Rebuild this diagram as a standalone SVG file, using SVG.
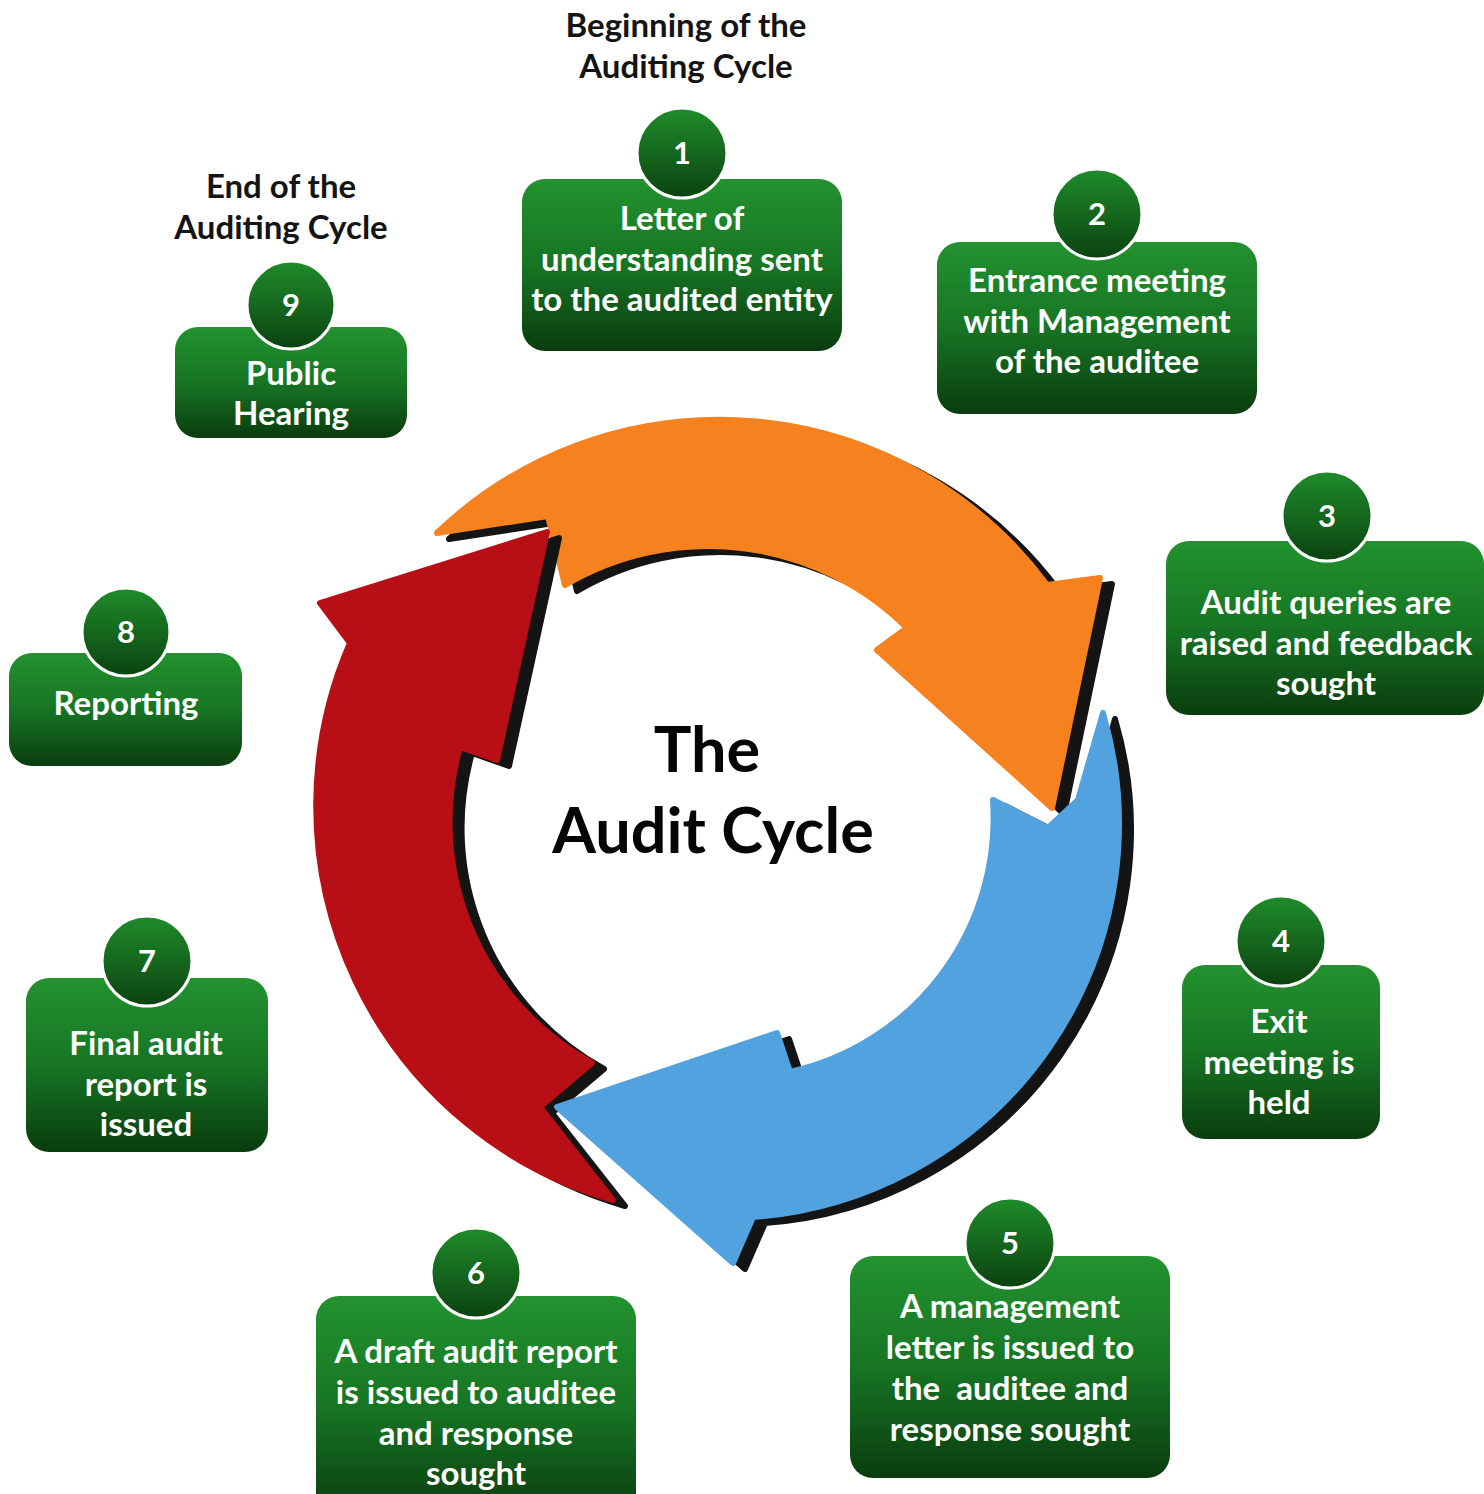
<svg xmlns="http://www.w3.org/2000/svg" width="1484" height="1494" viewBox="0 0 1484 1494">
  <defs>
    <linearGradient id="boxFill" x1="0" y1="0" x2="0" y2="1">
      <stop offset="0" stop-color="#23922f"/>
      <stop offset="0.5" stop-color="#177524"/>
      <stop offset="1" stop-color="#0a3c0e"/>
    </linearGradient>
    <linearGradient id="badgeFill" x1="0" y1="0" x2="0" y2="1">
      <stop offset="0" stop-color="#1f8c2b"/>
      <stop offset="1" stop-color="#0b4210"/>
    </linearGradient>
    <!-- the three curved arrows of the cycle, centred near (726,826) -->
    <path id="arrowOrange" d="M437,533 A408,408 0 0 1 1047,585 L1100,578 L1052,808 L877,650 L907,628 A282,282 0 0 0 565,585 L548,516 Z"/>
    <path id="arrowRed" d="M547,532 L320,603 L350,643 A410,410 0 0 0 613,1200 L540,1107 L592,1063 A275,275 0 0 1 460,747 L497,760 Z"/>
    <path id="arrowBlue" d="M1103,713 A394,394 0 0 1 753,1217 L733,1263 L557,1107 L777,1033 L790,1072 A260,260 0 0 0 993,800 L1048,828 L1078,800 Z"/>
  </defs>
  <style>
    .box { fill: url(#boxFill); }
    .badge { fill: url(#badgeFill); stroke: #ffffff; stroke-width: 3; }
    .lbl { font-family: Lato, "Liberation Sans", sans-serif; font-weight: 700; font-size: 33px; fill: #ffffff; text-anchor: middle; }
    .num { font-family: Lato, "Liberation Sans", sans-serif; font-weight: 700; font-size: 31px; fill: #ffffff; text-anchor: middle; }
    .title { font-family: Lato, "Liberation Sans", sans-serif; font-weight: 700; font-size: 33px; fill: #141414; text-anchor: middle; }
    .hero { font-family: Lato, "Liberation Sans", sans-serif; font-weight: 700; font-size: 63px; fill: #050505; text-anchor: middle; }
    .pre { white-space: pre; }
    .shadow { fill: #141414; stroke: #141414; stroke-width: 6; stroke-linejoin: round; }
    .orange { fill: #f6821f; stroke: #f6821f; stroke-width: 6; stroke-linejoin: round; }
    .red { fill: #b80f16; stroke: #b80f16; stroke-width: 6; stroke-linejoin: round; }
    .blue { fill: #51a2de; stroke: #51a2de; stroke-width: 6; stroke-linejoin: round; }
  </style>

  <rect width="1484" height="1494" fill="#ffffff"/>

  <!-- cycle arrows with their drop shadows -->
  <g id="cycle-arrows">
    <use href="#arrowOrange" class="shadow" transform="translate(12,6)"/>
    <use href="#arrowOrange" class="orange"/>
    <use href="#arrowRed" class="shadow" transform="translate(12,6)"/>
    <use href="#arrowRed" class="red"/>
    <use href="#arrowBlue" class="shadow" transform="translate(12,6)"/>
    <use href="#arrowBlue" class="blue"/>
  </g>

  <!-- headings -->
  <g id="title-begin">
    <text class="title" x="686" y="37">Beginning of the</text>
    <text class="title" x="686" y="78">Auditing Cycle</text>
  </g>
  <g id="title-end">
    <text class="title" x="281" y="198">End of the</text>
    <text class="title" x="281" y="239">Auditing Cycle</text>
  </g>
  <g id="title-center">
    <text class="hero" x="707" y="772">The</text>
    <text class="hero" x="713" y="853">Audit Cycle</text>
  </g>

  <!-- steps -->
  <g id="step1">
    <rect class="box" x="522" y="179" width="320" height="172" rx="23"/>
    <circle class="badge" cx="682" cy="153" r="45"/>
    <text class="num" x="682" y="164">1</text>
    <text class="lbl" x="682" y="230">Letter of</text>
    <text class="lbl" x="682" y="271">understanding sent</text>
    <text class="lbl" x="682" y="311">to the audited entity</text>
  </g>
  <g id="step2">
    <rect class="box" x="937" y="242" width="320" height="172" rx="23"/>
    <circle class="badge" cx="1097" cy="214" r="45"/>
    <text class="num" x="1097" y="225">2</text>
    <text class="lbl" x="1097" y="292">Entrance meeting</text>
    <text class="lbl" x="1097" y="333">with Management</text>
    <text class="lbl" x="1097" y="373">of the auditee</text>
  </g>
  <g id="step3">
    <rect class="box" x="1166" y="541" width="318" height="174" rx="23"/>
    <circle class="badge" cx="1327" cy="516" r="45"/>
    <text class="num" x="1327" y="527">3</text>
    <text class="lbl" x="1326" y="614">Audit queries are</text>
    <text class="lbl" x="1326" y="655">raised and feedback</text>
    <text class="lbl" x="1326" y="695">sought</text>
  </g>
  <g id="step4">
    <rect class="box" x="1182" y="965" width="198" height="174" rx="23"/>
    <circle class="badge" cx="1281" cy="941" r="45"/>
    <text class="num" x="1281" y="952">4</text>
    <text class="lbl" x="1279" y="1033">Exit</text>
    <text class="lbl" x="1279" y="1074">meeting is</text>
    <text class="lbl" x="1279" y="1114">held</text>
  </g>
  <g id="step5">
    <rect class="box" x="850" y="1256" width="320" height="222" rx="23"/>
    <circle class="badge" cx="1010" cy="1243" r="45"/>
    <text class="num" x="1010" y="1254">5</text>
    <text class="lbl" x="1010" y="1318">A management</text>
    <text class="lbl" x="1010" y="1359">letter is issued to</text>
    <text class="lbl pre" x="1010" y="1400" xml:space="preserve">the  auditee and</text>
    <text class="lbl" x="1010" y="1441">response sought</text>
  </g>
  <g id="step6">
    <rect class="box" x="316" y="1296" width="320" height="222" rx="23"/>
    <circle class="badge" cx="476" cy="1273" r="45"/>
    <text class="num" x="476" y="1284">6</text>
    <text class="lbl" x="476" y="1363">A draft audit report</text>
    <text class="lbl" x="476" y="1404">is issued to auditee</text>
    <text class="lbl" x="476" y="1445">and response</text>
    <text class="lbl" x="476" y="1485">sought</text>
  </g>
  <g id="step7">
    <rect class="box" x="26" y="978" width="242" height="174" rx="23"/>
    <circle class="badge" cx="147" cy="961" r="45"/>
    <text class="num" x="147" y="972">7</text>
    <text class="lbl" x="146" y="1055">Final audit</text>
    <text class="lbl" x="146" y="1096">report is</text>
    <text class="lbl" x="146" y="1136">issued</text>
  </g>
  <g id="step8">
    <rect class="box" x="9" y="653" width="233" height="113" rx="23"/>
    <circle class="badge" cx="126" cy="632" r="44"/>
    <text class="num" x="126" y="643">8</text>
    <text class="lbl" x="126" y="715">Reporting</text>
  </g>
  <g id="step9">
    <rect class="box" x="175" y="327" width="232" height="111" rx="23"/>
    <circle class="badge" cx="291" cy="305" r="44"/>
    <text class="num" x="291" y="316">9</text>
    <text class="lbl" x="291" y="385">Public</text>
    <text class="lbl" x="291" y="425">Hearing</text>
  </g>
</svg>
